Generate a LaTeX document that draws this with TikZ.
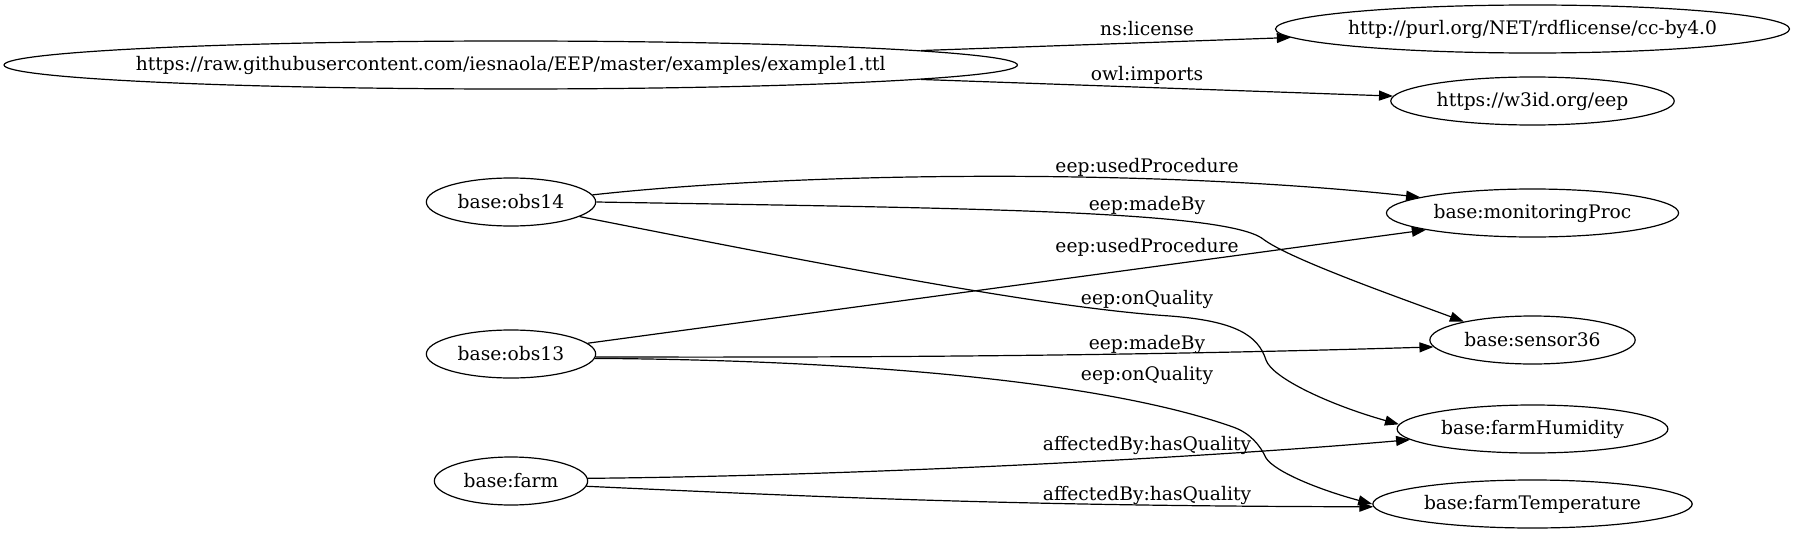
\documentclass[tikz,border=0pt]{standalone}
\usepackage{fontspec}
\setmainfont{DejaVu Serif}
\usetikzlibrary{arrows.meta,shapes.geometric}

\begin{document}
\begin{tikzpicture}[x=0.75pt, y=-0.75pt, >={Triangle[length=10.5pt,width=7.5pt]}, line width=0.9pt,
    font=\fontsize{14pt}{17pt}\selectfont,
    res/.style={ellipse, draw, inner ysep=0pt, minimum height=36pt},
    prop/.style={anchor=base}]
    \useasboundingbox (0,0) rectangle (1794,535);
    % left column
    \node[res, minimum width=760pt, inner xsep=-25pt] (ex1) at (510.7,65) {https://raw.githubusercontent.com/iesnaola/EEP/master/examples/example1.ttl};
    \node[res, minimum width=127pt] (obs14) at (511,202) {base:obs14};
    \node[res, minimum width=127pt] (obs13) at (511,354) {base:obs13};
    \node[res, minimum width=115pt] (farm) at (511,481) {base:farm};
    % right column
    \node[res, minimum width=385.5pt, inner xsep=-25pt] (ccby) at (1532.5,29) {http://purl.org/NET/rdflicense/cc-by4.0};
    \node[res, minimum width=210pt] (w3id) at (1532.5,101) {https://w3id.org/eep};
    \node[res, minimum width=216pt] (monproc) at (1532.5,213) {base:monitoringProc};
    \node[res, minimum width=154pt] (sensor) at (1532.5,340) {base:sensor36};
    \node[res, minimum width=202pt] (humid) at (1532.5,429) {base:farmHumidity};
    \node[res, minimum width=236pt] (temp) at (1532.5,504) {base:farmTemperature};
    % property labels
    \node[prop] (lic) at (1147,36) {ns:license};
    \node[prop] (imp) at (1147,80) {owl:imports};
    \node[prop] (proc14) at (1147,172.7) {eep:usedProcedure};
    \node[prop] (made14) at (1147,210.7) {eep:madeBy};
    \node[prop] (proc13) at (1147,252.7) {eep:usedProcedure};
    \node[prop] (qual14) at (1147,304) {eep:onQuality};
    \node[prop] (made13) at (1147,349) {eep:madeBy};
    \node[prop] (qual13) at (1147,380.7) {eep:onQuality};
    \node[prop] (aff1) at (1147,450) {affectedBy:hasQuality};
    \node[prop] (aff2) at (1147,500.7) {affectedBy:hasQuality};
    % edges
    \draw[->] (ex1) -- (ccby);
    \draw[->] (ex1) -- (w3id);
    \draw[->] (obs14.5) .. controls (800,172) and (1150,168) .. (monproc.172);
    \draw[->] (obs14.east) .. controls (950,208) and (1225,210) .. (1263,239)
        .. controls (1289,259) and (1403,299) .. (sensor.165);
    \draw[->] (obs14.-12) .. controls (850,270) and (1050,308) .. (1170,316)
        .. controls (1235,321) and (1258,335) .. (1266,360)
        .. controls (1272,378) and (1330,405) .. (humid.178);
    \draw[->] (obs13.8) -- (monproc.189);
    \draw[->] (obs13.-2) .. controls (800,357.5) and (1100,357) .. (sensor.184);
    \draw[->] (obs13.-3) .. controls (850,360) and (1100,380) .. (1233,427)
        .. controls (1250,433) and (1260,445) .. (1266,458)
        .. controls (1275,472) and (1320,490) .. (temp.180);
    \draw[->] (farm.2) .. controls (850,476) and (1200,458) .. (humid.185);
    \draw[->] (farm.-4) .. controls (800,496) and (1000,506) .. (temp.181);
\end{tikzpicture}
\end{document}
